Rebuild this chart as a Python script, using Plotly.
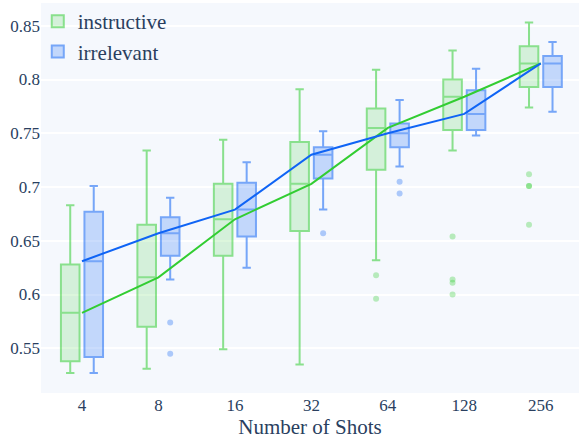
import plotly.graph_objects as go

shots = ["4", "8", "16", "32", "64", "128", "256"]

# instructive
ins_low = [0.527, 0.531, 0.549, 0.535, 0.632, 0.734, 0.774]
ins_q1 = [0.538, 0.570, 0.636, 0.659, 0.716, 0.753, 0.793]
ins_med = [0.583, 0.616, 0.670, 0.703, 0.755, 0.784, 0.815]
ins_q3 = [0.628, 0.665, 0.703, 0.742, 0.773, 0.800, 0.831]
ins_up = [0.683, 0.734, 0.744, 0.791, 0.809, 0.827, 0.853]
ins_out_x = ["64", "64", "128", "128", "128", "128", "256", "256", "256", "256"]
ins_out_y = [0.618, 0.596, 0.654, 0.614, 0.611, 0.600, 0.712, 0.701, 0.701, 0.665]

# irrelevant
irr_low = [0.527, 0.614, 0.625, 0.679, 0.719, 0.748, 0.770]
irr_q1 = [0.542, 0.636, 0.654, 0.708, 0.737, 0.753, 0.793]
irr_med = [0.631, 0.657, 0.679, 0.730, 0.750, 0.768, 0.815]
irr_q3 = [0.677, 0.672, 0.704, 0.737, 0.759, 0.790, 0.822]
irr_up = [0.701, 0.690, 0.723, 0.752, 0.781, 0.810, 0.835]
irr_out_x = ["8", "8", "32", "64", "64"]
irr_out_y = [0.574, 0.545, 0.657, 0.705, 0.694]

GREEN = "rgb(50,205,50)"
BLUE = "rgb(15,100,245)"
FONT = "Liberation Serif"

fig = go.Figure()


def add_box(name, low, q1, med, q3, up, ox, oy, color, fill):
    fig.add_trace(go.Box(
        name=name, x=shots, q1=q1, median=med, q3=q3,
        lowerfence=low, upperfence=up, orientation="v",
        line=dict(color=color, width=2), fillcolor=fill, opacity=0.55,
        whiskerwidth=0.45, offsetgroup=name,
    ))
    fig.add_trace(go.Box(
        name=name, x=ox, y=oy, boxpoints="all", jitter=0, pointpos=0,
        marker=dict(color=color, size=6, opacity=0.32),
        line=dict(width=0), fillcolor="rgba(0,0,0,0)",
        offsetgroup=name, showlegend=False, hoverinfo="y",
    ))


add_box("instructive", ins_low, ins_q1, ins_med, ins_q3, ins_up, ins_out_x, ins_out_y,
        GREEN, "rgba(50,205,50,0.3)")
add_box("irrelevant", irr_low, irr_q1, irr_med, irr_q3, irr_up, irr_out_x, irr_out_y,
        BLUE, "rgba(15,100,245,0.4)")

fig.add_trace(go.Scatter(x=shots, y=ins_med, mode="lines", line=dict(color=GREEN, width=2), showlegend=False))
fig.add_trace(go.Scatter(x=shots, y=irr_med, mode="lines", line=dict(color=BLUE, width=2), showlegend=False))

fig.update_layout(
    width=579, height=441,
    margin=dict(l=41, r=0, t=3, b=48),
    boxmode="group", boxgap=0.385, boxgroupgap=0.21,
    paper_bgcolor="white", plot_bgcolor="#f5f8fd",
    font=dict(family=FONT, color="#2a3f5f", size=17),
    legend=dict(x=-0.006, y=1.005, xanchor="left", yanchor="top", bgcolor="rgba(0,0,0,0)",
                tracegroupgap=0, font=dict(size=21, family=FONT)),
    xaxis=dict(type="category", range=[-0.536, 6.5], showgrid=False, zeroline=False,
               title=dict(text="Number of Shots", font=dict(size=21), standoff=2),
               tickfont=dict(size=17)),
    yaxis=dict(range=[0.5084, 0.8712], tickvals=[0.55, 0.6, 0.65, 0.7, 0.75, 0.8, 0.85],
               ticktext=["0.55", "0.6", "0.65", "0.7", "0.75", "0.8", "0.85"],
               gridcolor="white", gridwidth=2, zeroline=False, tickfont=dict(size=17)),
)

fig.write_html(
    "out.html",
    config={"displayModeBar": False},
    post_script="document.body.style.margin='0';document.body.style.overflow='hidden';",
)
